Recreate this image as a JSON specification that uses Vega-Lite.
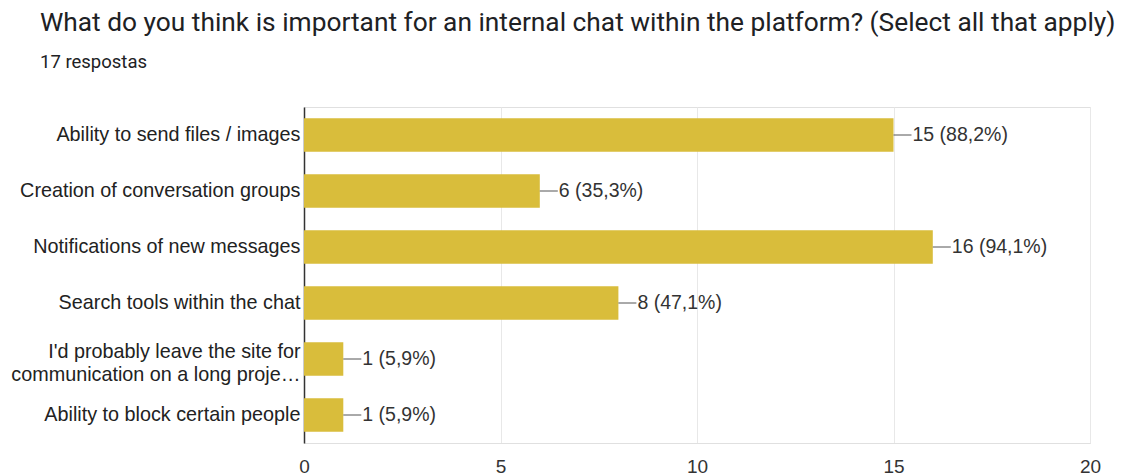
{
  "$schema": "https://vega.github.io/schema/vega-lite/v6.json",
  "autosize": "none",
  "width": 786,
  "height": 336,
  "padding": {"left": 304, "top": 107, "right": 35, "bottom": 32},
  "background": "#ffffff",
  "title": {
    "text": "What do you think is important for an internal chat within the platform? (Select all that apply)",
    "subtitle": "17 respostas",
    "anchor": "start",
    "frame": "group",
    "dx": -264,
    "offset": 36,
    "font": "Roboto",
    "fontSize": 26.3,
    "fontWeight": "normal",
    "color": "#202124",
    "subtitleFont": "Roboto",
    "subtitleFontSize": 18.5,
    "subtitleColor": "#202124",
    "subtitlePadding": 16
  },
  "config": {
    "view": {"stroke": "#e0e0e0", "strokeWidth": 1},
    "font": "Liberation Sans"
  },
  "data": {
    "values": [
      {"option": "Ability to send files / images", "count": 15, "label": "15 (88,2%)"},
      {"option": "Creation of conversation groups", "count": 6, "label": "6 (35,3%)"},
      {"option": "Notifications of new messages", "count": 16, "label": "16 (94,1%)"},
      {"option": "Search tools within the chat", "count": 8, "label": "8 (47,1%)"},
      {"option": "I'd probably leave the site for communication on a long proje…", "count": 1, "label": "1 (5,9%)"},
      {"option": "Ability to block certain people", "count": 1, "label": "1 (5,9%)"}
    ]
  },
  "encoding": {
    "y": {
      "field": "option",
      "type": "nominal",
      "sort": null,
      "scale": {"paddingInner": 0.4, "paddingOuter": 0.2},
      "axis": {
        "title": null,
        "ticks": false,
        "domainColor": "#333333",
        "domainWidth": 1.5,
        "labelFont": "Liberation Sans",
        "labelFontSize": 19.8,
        "labelColor": "#222222",
        "labelPadding": 4,
        "labelLimit": 400,
        "labelLineHeight": 23,
        "labelOffset": {"condition": {"test": "length(datum.value) > 40", "value": -7}, "value": 0},
        "labelExpr": "split(replace(datum.label, 'for communication', 'for|communication'), '|')"
      }
    }
  },
  "layer": [
    {
      "mark": {"type": "bar", "color": "#d9bd3b"},
      "encoding": {
        "x": {
          "field": "count",
          "type": "quantitative",
          "scale": {"domain": [0, 20]},
          "axis": {
            "title": null,
            "values": [0, 5, 10, 15, 20],
            "ticks": false,
            "domain": true,
            "labelFlush": false,
            "domainColor": "#e0e0e0",
            "gridColor": "#e8e8e8",
            "labelFont": "Liberation Sans",
            "labelFontSize": 19,
            "labelColor": "#333333",
            "labelPadding": 14
          }
        }
      }
    },
    {
      "mark": {"type": "rule", "color": "#555555", "strokeWidth": 1, "x2Offset": 18},
      "encoding": {
        "x": {"field": "count", "type": "quantitative"},
        "x2": {"field": "count"}
      }
    },
    {
      "mark": {"type": "text", "align": "left", "dx": 19, "fontSize": 19.5, "font": "Liberation Sans", "color": "#333333"},
      "encoding": {
        "x": {"field": "count", "type": "quantitative"},
        "text": {"field": "label"}
      }
    }
  ]
}
